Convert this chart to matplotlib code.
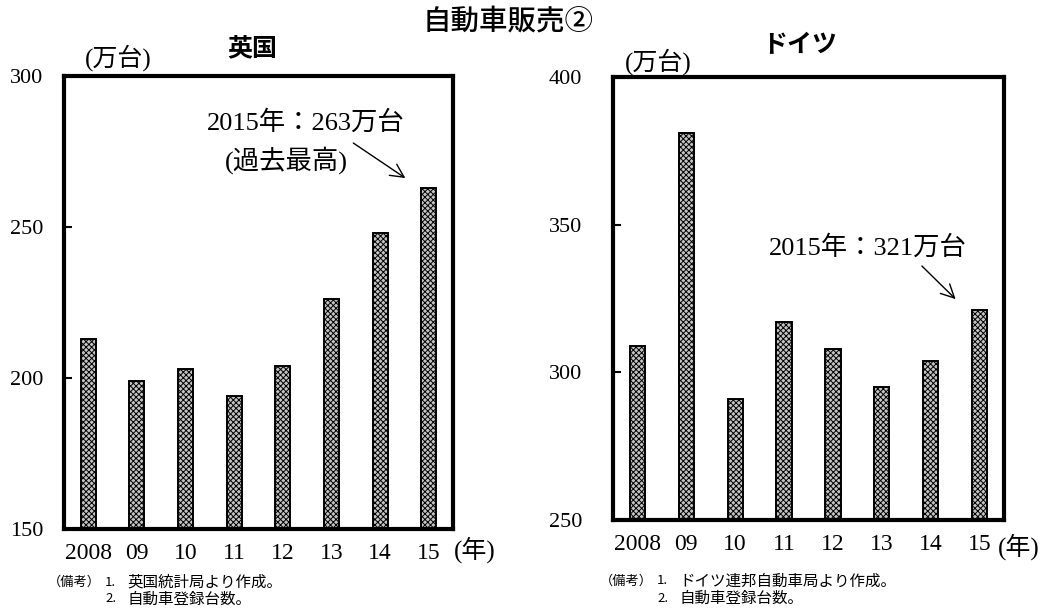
import matplotlib
matplotlib.use("Agg")
import matplotlib.pyplot as plt

years = ["2008", "09", "10", "11", "12", "13", "14", "15"]
uk_sales = [213, 199, 203, 194, 204, 226, 248, 263]
de_sales = [309, 381, 291, 317, 308, 295, 304, 321]
uk_yticks = [150, 200, 250, 300]
de_yticks = [250, 300, 350, 400]

SERIF = ["Liberation Serif", "Noto Sans CJK JP", "DejaVu Sans"]
SANS = ["Noto Sans CJK JP", "DejaVu Sans"]
plt.rcParams["font.family"] = SERIF
plt.rcParams["hatch.linewidth"] = 0.7
plt.rcParams["hatch.color"] = "#222222"

W, H = 1047, 611
fig = plt.figure(figsize=(W / 100, H / 100), dpi=100)

def px_axes(l, t, r, b):
    return fig.add_axes([l / W, 1 - b / H, (r - l) / W, (b - t) / H])

def draw(ax, vals, yticks, pad):
    x = list(range(len(years)))
    ax.bar(x, vals, width=0.31, color="#c4c4c4", edgecolor="black",
           linewidth=1.4, hatch="xxxxxx", zorder=2)
    ax.set_xlim(-0.5, len(years) - 0.5)
    ax.set_ylim(yticks[0], yticks[-1])
    ax.set_yticks(yticks)
    ax.set_yticklabels([str(v) for v in yticks])
    ax.set_xticks(x)
    ax.set_xticklabels(years)
    ax.tick_params(axis="y", direction="in", length=6, width=1.5, pad=pad, labelsize=16)
    ax.tick_params(axis="x", length=0, pad=10, labelsize=17)
    for s in ax.spines.values():
        s.set_linewidth(3.0)

ax1 = px_axes(64, 76, 453, 529)
draw(ax1, uk_sales, uk_yticks, 15)
ax2 = px_axes(613, 77, 1004, 520)
draw(ax2, de_sales, de_yticks, 22)

# titles
fig.text(508 / W, 1 - 21 / H, "自動車販売②", family=SANS, fontsize=20.5,
         fontweight="medium", ha="center", va="center")
fig.text(252 / W, 1 - 48 / H, "英国", family=SANS, fontsize=18,
         fontweight="bold", ha="center", va="center")
fig.text(800 / W, 1 - 45 / H, "ドイツ", family=SANS, fontsize=18,
         fontweight="bold", ha="center", va="center")

# unit labels
fig.text(118 / W, 1 - 58 / H, "(万台)", fontsize=18, ha="center", va="center")
fig.text(658 / W, 1 - 62 / H, "(万台)", fontsize=18, ha="center", va="center")
fig.text(475 / W, 1 - 550 / H, "(年)", fontsize=18, ha="center", va="center")
fig.text(1019 / W, 1 - 547 / H, "(年)", fontsize=18, ha="center", va="center")

# annotations
ax1.annotate("", xy=(6.52, 266.2), xytext=(5.45, 277.8),
             arrowprops=dict(arrowstyle="->", lw=1.0, color="black",
                             mutation_scale=24, shrinkA=0, shrinkB=0))
fig.text(306 / W, 1 - 122 / H, "2015年：263万台", fontsize=19,
         ha="center", va="center")
fig.text(286 / W, 1 - 160 / H, "(過去最高)", fontsize=19,
         ha="center", va="center")

ax2.annotate("", xy=(6.51, 324.8), xytext=(5.82, 336.0),
             arrowprops=dict(arrowstyle="->", lw=1.0, color="black",
                             mutation_scale=24, shrinkA=0, shrinkB=0))
fig.text(868 / W, 1 - 247 / H, "2015年：321万台", fontsize=19,
         ha="center", va="center")

# notes
NS = 11.2
def note(x0, y0, lines):
    fig.text(x0 / W, 1 - y0 / H, "（備考）", family=SANS, fontsize=9.5,
             ha="left", va="center")
    for i, (num, txt) in enumerate(lines):
        y = y0 + 17 * i
        fig.text((x0 + 57) / W, 1 - y / H, num, family=SANS, fontsize=9.5,
                 ha="left", va="center")
        fig.text((x0 + 79) / W, 1 - y / H, txt, family=SANS, fontsize=NS,
                 ha="left", va="center")

note(48, 582, [("1.", "英国統計局より作成。"), ("2.", "自動車登録台数。")])
note(600, 581, [("1.", "ドイツ連邦自動車局より作成。"), ("2.", "自動車登録台数。")])

fig.savefig("out.png", dpi=100)
